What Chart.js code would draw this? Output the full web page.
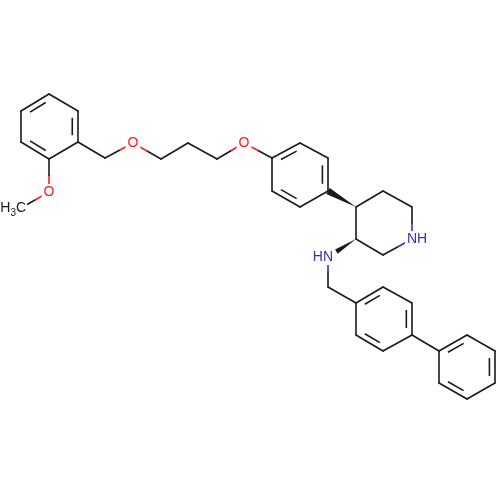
<!DOCTYPE html>
<html>
<head>
<meta charset="utf-8">
<script src="https://cdn.jsdelivr.net/npm/chart.js@4"></script>
<style>
  body { margin: 0; background: #fff; }
</style>
</head>
<body>
<canvas id="mol" width="500" height="500"></canvas>
<script>
// Atom positions (x, y in picture units)
const atomX = [49, 78, 78, 49, 21, 21, 49, 21, 105, 133, 161, 188, 217, 244,
  272, 300, 328, 328, 300, 272, 356, 383, 412, 412, 383, 356, 328, 328,
  356, 383, 412, 412, 383, 356, 439, 467, 495, 495, 467, 439];
const atomY = [94, 111, 142, 159, 142, 111, 192, 208, 158, 143, 159, 143, 159, 143,
  158, 143, 158, 191, 207, 191, 207, 191, 207, 239, 255, 239, 257, 287,
  303, 287, 303, 335, 351, 335, 351, 335, 351, 383, 399, 383];
const atomEl = ['C', 'C', 'C', 'C', 'C', 'C', 'O', 'C', 'C', 'O', 'C', 'C', 'C', 'O',
  'C', 'C', 'C', 'C', 'C', 'C', 'C', 'C', 'C', 'N', 'C', 'C', 'N', 'C',
  'C', 'C', 'C', 'C', 'C', 'C', 'C', 'C', 'C', 'C', 'C', 'C'];
// labels: atom index -> text
const labels = { 6: 'O', 9: 'O', 13: 'O', 23: 'NH', 26: 'HN', 7: 'H3C' };

// Bonds: [from, to, kind]  kind: 1 single, 2 aromatic double (inner line), 'w' wedge (wide at 'to')
const bonds = [
  [0, 1, 1], [1, 2, 2], [2, 3, 1], [3, 4, 2], [4, 5, 1], [5, 0, 2],
  [3, 6, 1], [6, 7, 1], [2, 8, 1], [8, 9, 1], [9, 10, 1], [10, 11, 1], [11, 12, 1], [12, 13, 1], [13, 14, 1],
  [14, 15, 2], [15, 16, 1], [16, 17, 2], [17, 18, 1], [18, 19, 2], [19, 14, 1],
  [20, 17, 'w'],
  [20, 21, 1], [21, 22, 1], [22, 23, 1], [23, 24, 1], [24, 25, 1], [25, 20, 1],
  [25, 26, 'w'], [26, 27, 1], [27, 28, 1],
  [28, 29, 2], [29, 30, 1], [30, 31, 2], [31, 32, 1], [32, 33, 2], [33, 28, 1],
  [31, 34, 1],
  [34, 35, 2], [35, 36, 1], [36, 37, 2], [37, 38, 1], [38, 39, 2], [39, 34, 1]
];
// ring membership for inner double lines
const rings = [[0, 1, 2, 3, 4, 5], [14, 15, 16, 17, 18, 19], [28, 29, 30, 31, 32, 33], [34, 35, 36, 37, 38, 39]];

const elColor = { C: '#1a1a1a', O: '#ff1a1a', N: '#3535a8' };
const FONT = '"Liberation Sans", Arial, sans-serif';

// Build line datasets, splitting bonds to hetero atoms into two coloured halves
const datasets = [];
bonds.forEach(([a, b, kind]) => {
  if (kind === 'w') return;
  const mx = (atomX[a] + atomX[b]) / 2, my = (atomY[a] + atomY[b]) / 2;
  const seg = (i, x, y) => ({
    data: [{ x: atomX[i], y: atomY[i] }, { x: x, y: y }],
    borderColor: elColor[atomEl[i]], borderWidth: 1.6, showLine: true,
    pointRadius: 0, borderCapStyle: 'round'
  });
  if (atomEl[a] === atomEl[b]) {
    datasets.push(seg(a, atomX[b], atomY[b]));
  } else {
    datasets.push(seg(a, mx, my));
    datasets.push(seg(b, mx, my));
  }
});

const extras = {
  id: 'extras',
  afterDatasetsDraw(chart) {
    const ctx = chart.ctx;
    const sx = chart.scales.x, sy = chart.scales.y;
    const px = i => sx.getPixelForValue(atomX[i]);
    const py = i => sy.getPixelForValue(atomY[i]);
    ctx.save();
    ctx.lineWidth = 1.6;
    ctx.strokeStyle = elColor.C;
    ctx.fillStyle = elColor.C;
    bonds.forEach(([a, b, kind]) => {
      if (kind === 2) {
        const ring = rings.find(r => r.includes(a) && r.includes(b));
        const cx = ring.reduce((s, i) => s + px(i), 0) / 6;
        const cy = ring.reduce((s, i) => s + py(i), 0) / 6;
        const f = 0.2;
        const t = 0.15;
        const ax = px(a) + (cx - px(a)) * f, ay = py(a) + (cy - py(a)) * f;
        const bx = px(b) + (cx - px(b)) * f, by = py(b) + (cy - py(b)) * f;
        ctx.beginPath();
        ctx.moveTo(ax + (bx - ax) * t, ay + (by - ay) * t);
        ctx.lineTo(bx - (bx - ax) * t, by - (by - ay) * t);
        ctx.stroke();
      } else if (kind === 'w') {
        const ax = px(a), ay = py(a), bx = px(b), by = py(b);
        const len = Math.hypot(bx - ax, by - ay);
        const nx = -(by - ay) / len * 3.5, ny = (bx - ax) / len * 3.5;
        // stop the wedge short of a label
        const end = labels[b] ? 0.7 : 1;
        const ex = ax + (bx - ax) * end, ey = ay + (by - ay) * end;
        ctx.beginPath();
        ctx.moveTo(ax, ay);
        ctx.lineTo(ex + nx * end, ey + ny * end);
        ctx.lineTo(ex - nx * end, ey - ny * end);
        ctx.closePath();
        ctx.fill();
      }
    });
    // atom labels
    ctx.font = '14px ' + FONT;
    ctx.textBaseline = 'middle';
    ctx.textAlign = 'left';
    Object.keys(labels).forEach(k => {
      const i = +k, text = labels[k];
      const x = px(i), y = py(i);
      const color = elColor[atomEl[i]];
      if (text === 'H3C') {
        const wH = ctx.measureText('H').width, wC = ctx.measureText('C').width;
        ctx.font = '10px ' + FONT;
        const w3 = ctx.measureText('3').width;
        const left = x - wC / 2 - w3 - wH;
        ctx.fillStyle = '#fff';
        ctx.fillRect(left - 1, y - 8, wH + w3 + wC + 2, 17);
        ctx.fillStyle = '#1a1a1a';
        ctx.fillText('3', left + wH, y + 5);
        ctx.font = '14px ' + FONT;
        ctx.fillText('H', left, y);
        ctx.fillText('C', left + wH + w3, y);
        return;
      }
      const wN = ctx.measureText(text[0] === 'H' ? 'N' : text[0]).width;
      const wAll = ctx.measureText(text).width;
      // keep the element letter centred on the atom
      let left = x - wN / 2;
      if (text === 'HN') left = x - wAll + wN / 2;
      ctx.fillStyle = '#fff';
      ctx.fillRect(left - 2, y - 8, wAll + 4, 16);
      ctx.fillStyle = color;
      ctx.fillText(text, left, y);
    });
    ctx.restore();
  }
};

new Chart(document.getElementById('mol'), {
  type: 'scatter',
  data: { datasets: datasets },
  options: {
    responsive: false,
    animation: false,
    layout: { padding: 0 },
    plugins: { legend: { display: false }, tooltip: { enabled: false } },
    scales: {
      x: { type: 'linear', min: 0, max: 500, display: false },
      y: { type: 'linear', min: 0, max: 500, reverse: true, display: false }
    }
  },
  plugins: [extras]
});
</script>
</body>
</html>
